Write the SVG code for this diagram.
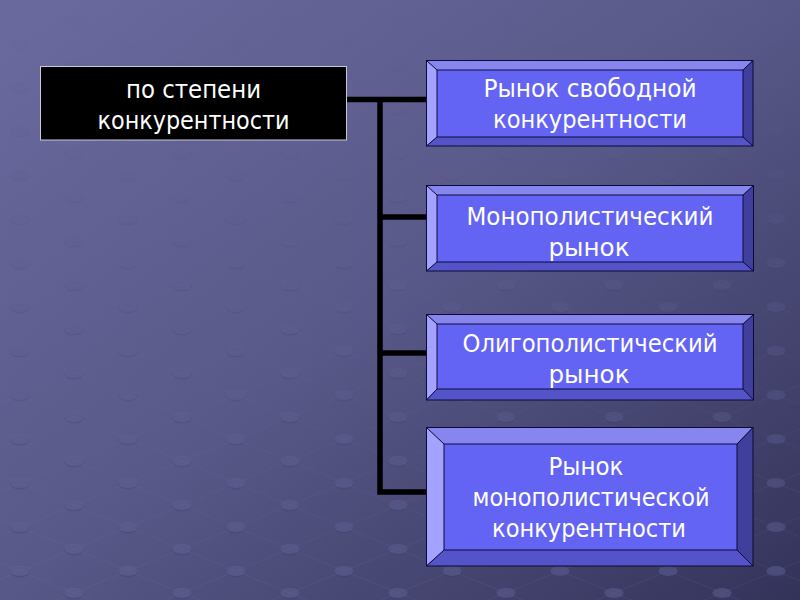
<svg xmlns="http://www.w3.org/2000/svg" width="800" height="600" viewBox="0 0 800 600">
  <defs>
    <linearGradient id="bg" x1="0" y1="0" x2="1" y2="1">
      <stop offset="0" stop-color="#6a6a9f"/>
      <stop offset="0.5" stop-color="#585888"/>
      <stop offset="1" stop-color="#33335a"/>
    </linearGradient>
    <pattern id="dots" width="108" height="44" patternUnits="userSpaceOnUse" patternTransform="translate(20,307)">
      <g stroke="#8080b0" stroke-width="0.8" stroke-opacity="0.16">
        <line x1="0" y1="0" x2="108" y2="44"/>
        <line x1="108" y1="0" x2="0" y2="44"/>
      </g>
      <g id="dot">
        <ellipse cx="0" cy="1" rx="10" ry="5.5" fill="#3c3c66" fill-opacity="0.3"/>
        <ellipse cx="0" cy="0" rx="9.5" ry="5" fill="#6c6ca2" fill-opacity="0.4"/>
      </g>
      <use href="#dot" x="108" y="0"/>
      <use href="#dot" x="0" y="44"/>
      <use href="#dot" x="108" y="44"/>
      <use href="#dot" x="54" y="22"/>
    </pattern>
    <linearGradient id="fade" x1="0" y1="0" x2="0" y2="1">
      <stop offset="0" stop-color="#fff" stop-opacity="0"/>
      <stop offset="0.25" stop-color="#fff" stop-opacity="0.25"/>
      <stop offset="1" stop-color="#fff" stop-opacity="1"/>
    </linearGradient>
    <mask id="m">
      <rect width="800" height="600" fill="url(#fade)"/>
    </mask>
  </defs>
  <style>
    .t { font-family: "DejaVu Sans", "Liberation Sans", sans-serif; font-size: 24px; fill: #ffffff; text-anchor: middle; }
    .top { fill: #8686ee; }
    .left { fill: #a3a3ff; }
    .right { fill: #40409c; }
    .bot { fill: #5454c8; }
    .face { fill: #6464f4; }
    .edge { fill: none; stroke: #0a0a3a; stroke-width: 1; }
    .conn { fill: none; stroke: #000000; stroke-width: 5.5; }
  </style>

  <rect width="800" height="600" fill="url(#bg)"/>
  <rect width="800" height="600" fill="url(#dots)" mask="url(#m)"/>

  <g id="connectors">
    <line class="conn" x1="347" y1="99.5" x2="427" y2="99.5"/>
    <polyline class="conn" points="380,99.5 380,492 427,492"/>
    <line class="conn" x1="380" y1="217" x2="427" y2="217"/>
    <line class="conn" x1="380" y1="353" x2="427" y2="353"/>
  </g>

  <g id="root">
    <rect x="40.5" y="66.5" width="306" height="73.5" fill="#000000" stroke="#c8c8d8" stroke-width="1"/>
    <text class="t" x="193.5" y="98" textLength="135" lengthAdjust="spacingAndGlyphs">по степени</text>
    <text class="t" x="193.5" y="129" textLength="192" lengthAdjust="spacingAndGlyphs">конкурентности</text>
  </g>

  <g id="free">
    <polygon class="top" points="426,60 753,60 743,70 437,70"/>
    <polygon class="left" points="426,60 437,70 437,137 426,146"/>
    <polygon class="right" points="753,60 753,146 743,137 743,70"/>
    <polygon class="bot" points="426,146 437,137 743,137 753,146"/>
    <rect class="face" x="437" y="70" width="306" height="67"/>
    <rect class="edge" x="426.5" y="60.5" width="326.5" height="85.5"/>
    <rect class="edge" x="437" y="70" width="306" height="67"/>
    <path class="edge" d="M426.5,60.5 L437,70 M753,60.5 L743,70 M753,146 L743,137 M426.5,146 L437,137"/>
    <text class="t" x="590" y="97" textLength="213" lengthAdjust="spacingAndGlyphs">Рынок свободной</text>
    <text class="t" x="590" y="128" textLength="194" lengthAdjust="spacingAndGlyphs">конкурентности</text>
  </g>

  <g id="monopoly">
    <polygon class="top" points="426,185 754,185 743,195 437,195"/>
    <polygon class="left" points="426,185 437,195 437,262 426,271"/>
    <polygon class="right" points="754,185 754,271 743,262 743,195"/>
    <polygon class="bot" points="426,271 437,262 743,262 754,271"/>
    <rect class="face" x="437" y="195" width="306" height="67"/>
    <rect class="edge" x="426.5" y="185.5" width="327" height="85.5"/>
    <rect class="edge" x="437" y="195" width="306" height="67"/>
    <path class="edge" d="M426.5,185.5 L437,195 M753.5,185.5 L743,195 M753.5,271 L743,262 M426.5,271 L437,262"/>
    <text class="t" x="590" y="225" textLength="247" lengthAdjust="spacingAndGlyphs">Монополистический</text>
    <text class="t" x="589" y="256" textLength="81" lengthAdjust="spacingAndGlyphs">рынок</text>
  </g>

  <g id="oligopoly">
    <polygon class="top" points="426,314 754,314 743,324 437,324"/>
    <polygon class="left" points="426,314 437,324 437,389 426,400"/>
    <polygon class="right" points="754,314 754,400 743,389 743,324"/>
    <polygon class="bot" points="426,400 437,389 743,389 754,400"/>
    <rect class="face" x="437" y="324" width="306" height="65"/>
    <rect class="edge" x="426.5" y="314.5" width="327" height="85.5"/>
    <rect class="edge" x="437" y="324" width="306" height="65"/>
    <path class="edge" d="M426.5,314.5 L437,324 M753.5,314.5 L743,324 M753.5,400 L743,389 M426.5,400 L437,389"/>
    <text class="t" x="590" y="352" textLength="255" lengthAdjust="spacingAndGlyphs">Олигополистический</text>
    <text class="t" x="589" y="383" textLength="81" lengthAdjust="spacingAndGlyphs">рынок</text>
  </g>

  <g id="monopolistic-competition">
    <polygon class="top" points="426,427 753,427 737,444 444,444"/>
    <polygon class="left" points="426,427 444,444 444,550 426,566"/>
    <polygon class="right" points="753,427 753,566 737,550 737,444"/>
    <polygon class="bot" points="426,566 444,550 737,550 753,566"/>
    <rect class="face" x="444" y="444" width="293" height="106"/>
    <rect class="edge" x="426.5" y="427.5" width="326.5" height="138.5"/>
    <rect class="edge" x="444" y="444" width="293" height="106"/>
    <path class="edge" d="M426.5,427.5 L444,444 M753,427.5 L737,444 M753,566 L737,550 M426.5,566 L444,550"/>
    <text class="t" x="586" y="475" textLength="75" lengthAdjust="spacingAndGlyphs">Рынок</text>
    <text class="t" x="591" y="506" textLength="237" lengthAdjust="spacingAndGlyphs">монополистической</text>
    <text class="t" x="589" y="537" textLength="194" lengthAdjust="spacingAndGlyphs">конкурентности</text>
  </g>
</svg>
